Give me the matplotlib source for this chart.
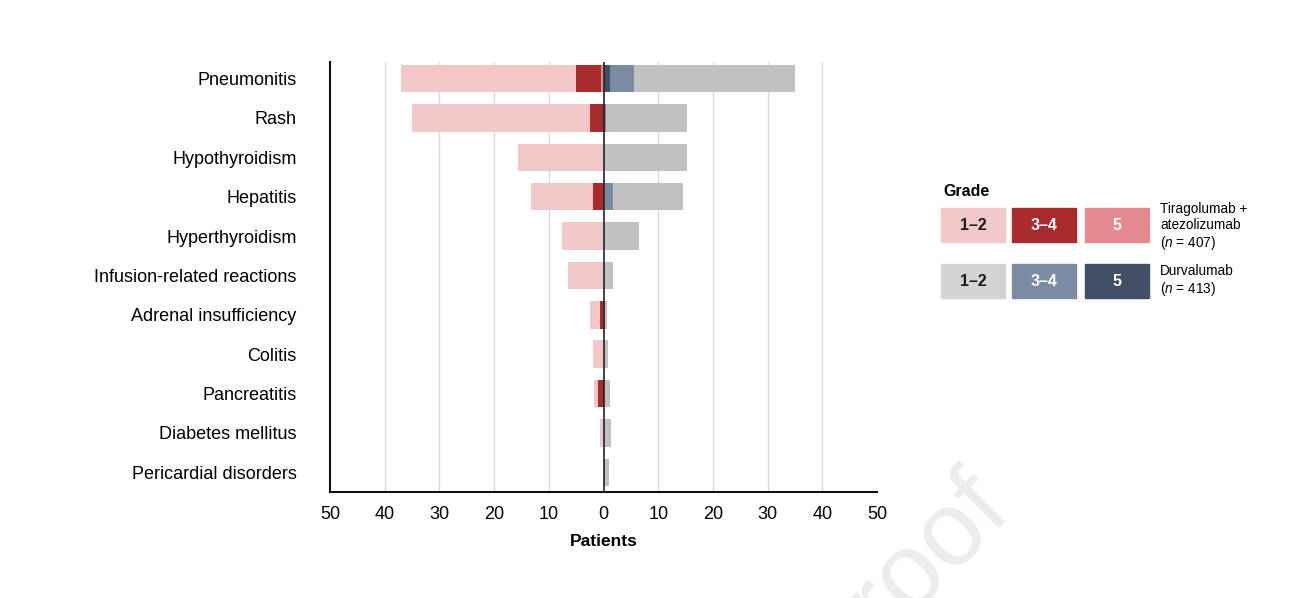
import matplotlib

matplotlib.use("Agg")
import matplotlib.pyplot as plt
import numpy as np
from matplotlib.patches import Rectangle
from matplotlib.ticker import FuncFormatter

plt.rcParams["font.family"] = ["Liberation Sans", "DejaVu Sans"]
plt.rcParams["mathtext.fontset"] = "custom"
plt.rcParams["mathtext.it"] = "Liberation Sans:italic"
plt.rcParams["mathtext.rm"] = "Liberation Sans"

categories = [
    "Pneumonitis",
    "Rash",
    "Hypothyroidism",
    "Hepatitis",
    "Hyperthyroidism",
    "Infusion-related reactions",
    "Adrenal insufficiency",
    "Colitis",
    "Pancreatitis",
    "Diabetes mellitus",
    "Pericardial disorders",
]

# tiragolumab + atezolizumab (left side), segment sizes by grade
tira_g5 = [0.4, 0, 0, 0, 0, 0, 0, 0, 0, 0, 0]
tira_g34 = [4.6, 2.5, 0, 1.9, 0, 0, 0.7, 0, 1.0, 0, 0]
tira_g12 = [32.0, 32.5, 15.6, 11.3, 7.5, 6.5, 1.7, 1.9, 0.7, 0.6, 0]

# durvalumab (right side)
durva_g5 = [1.2, 0, 0, 0, 0, 0, 0, 0, 0, 0, 0]
durva_g34 = [4.4, 0.5, 0, 1.8, 0, 0, 0, 0, 0, 0, 0]
durva_g12 = [29.4, 14.8, 15.2, 12.7, 6.5, 1.8, 0.6, 0.8, 1.15, 1.3, 1.0]

tira_colors = ["#f2c7c7", "#a82b2d", "#e48a8e"]   # 1-2, 3-4, 5
durva_colors = ["#c0c1c3", "#7b8ba3", "#415066"]
legend_colors_tira = ["#f2c7c7", "#a82b2d", "#e48a8e"]
legend_colors_durva = ["#d3d3d3", "#7b8ba3", "#415066"]
grade_labels = ["1–2", "3–4", "5"]

fig = plt.figure(figsize=(12.94, 5.98), dpi=100)
ax = fig.add_axes([330 / 1294, 1 - 492 / 598, 547 / 1294, 430 / 598])

y = np.arange(len(categories))
h = 0.7

g5 = np.array(tira_g5)
g34 = np.array(tira_g34)
g12 = np.array(tira_g12)
ax.barh(y, -g5, height=h, color=tira_colors[2], zorder=2)
ax.barh(y, -g34, left=-g5, height=h, color=tira_colors[1], zorder=2)
ax.barh(y, -g12, left=-(g5 + g34), height=h, color=tira_colors[0], zorder=2)

d5 = np.array(durva_g5)
d34 = np.array(durva_g34)
d12 = np.array(durva_g12)
ax.barh(y, d5, height=h, color=durva_colors[2], zorder=2)
ax.barh(y, d34, left=d5, height=h, color=durva_colors[1], zorder=2)
ax.barh(y, d12, left=d5 + d34, height=h, color=durva_colors[0], zorder=2)

ax.set_xlim(-50, 50)
ax.set_ylim(len(categories) - 0.5, -0.42)
ax.set_xticks(np.arange(-50, 51, 10))
ax.xaxis.set_major_formatter(FuncFormatter(lambda v, p: f"{abs(int(v))}"))
ax.set_yticks(y)
ax.set_yticklabels(categories)
ax.tick_params(axis="y", length=0, pad=24, labelsize=13)
ax.tick_params(axis="x", length=0, pad=10, labelsize=13)
for v in range(-40, 41, 10):
    if v != 0:
        ax.axvline(v, color="#d9d9d9", lw=1, zorder=1)
ax.axvline(0, color="#222222", lw=1.2, zorder=3)
for s in ["top", "right"]:
    ax.spines[s].set_visible(False)
for s in ["left", "bottom"]:
    ax.spines[s].set_color("#111111")
    ax.spines[s].set_linewidth(1.5)
ax.set_xlabel("Patients", fontsize=12.5, fontweight="bold", labelpad=8)

# legend drawn in pixel coordinates
lg = fig.add_axes([0, 0, 1, 1], zorder=-1)
lg.set_xlim(0, 1294)
lg.set_ylim(598, 0)
lg.axis("off")
lg.text(943, 191, "Grade", fontsize=11.5, fontweight="bold", va="center", ha="left")
box_x = [941, 1012, 1085]
rows = [(208, legend_colors_tira), (264, legend_colors_durva)]
for top, cols in rows:
    for i, (bx, c) in enumerate(zip(box_x, cols)):
        lg.add_patch(Rectangle((bx, top), 64, 34, color=c))
        lg.text(bx + 32, top + 17, grade_labels[i], ha="center", va="center",
                fontsize=11.5, fontweight="bold",
                color="#1a1a1a" if i == 0 else "white")
lg.text(1160, 227, "Tiragolumab +\natezolizumab\n($\\mathit{n}$ = 407)",
        fontsize=9.8, va="center", ha="left", linespacing=1.15)
lg.text(1160, 281, "Durvalumab\n($\\mathit{n}$ = 413)",
        fontsize=9.8, va="center", ha="left", linespacing=1.15)

# faint watermark
lg.text(1012, 508, "Proof", fontsize=76, color="#ececec", rotation=45,
        rotation_mode="anchor", ha="right", va="baseline")

fig.savefig("out.png", dpi=100)
